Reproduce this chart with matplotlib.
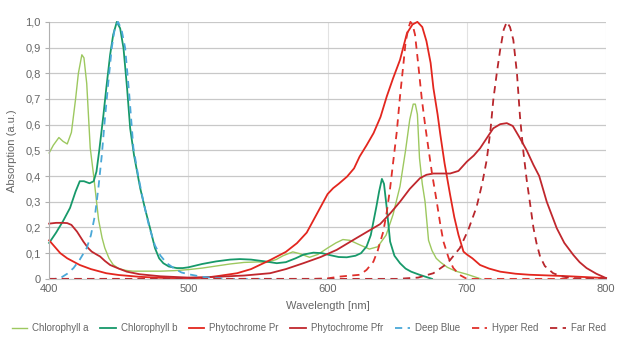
import matplotlib
matplotlib.use('Agg')
import matplotlib.pyplot as plt
from matplotlib.ticker import FuncFormatter

plt.rcParams['font.family'] = ['Liberation Sans', 'DejaVu Sans']

# Chlorophyll a
chla_wl = [400, 403, 407, 410, 413, 416, 419, 421, 423.5, 425, 427, 429.5, 432, 435.5, 438, 440, 443, 446,
           450, 455, 460, 470, 480, 490, 500, 510, 520, 530, 540, 550, 556, 563, 568, 575, 580, 587, 593,
           600, 606, 611, 616, 622, 630, 636, 642, 647, 652, 656, 659, 661.5, 663, 664.5, 666, 668, 670,
           672.5, 675, 678, 681, 686, 692, 700, 710]
chla_val = [0.49, 0.52, 0.55, 0.535, 0.525, 0.57, 0.70, 0.80, 0.872, 0.86, 0.76, 0.51, 0.40, 0.23, 0.16, 0.12,
            0.08, 0.055, 0.04, 0.033, 0.03, 0.03, 0.03, 0.032, 0.036, 0.042, 0.05, 0.058, 0.064, 0.066, 0.064,
            0.075, 0.09, 0.105, 0.098, 0.084, 0.095, 0.12, 0.14, 0.153, 0.15, 0.135, 0.116, 0.125, 0.17, 0.25,
            0.36, 0.50, 0.62, 0.68, 0.68, 0.64, 0.47, 0.37, 0.30, 0.15, 0.11, 0.08, 0.065, 0.045, 0.03, 0.018, 0.0]

# Chlorophyll b
chlb_wl = [400, 405, 410, 415, 419, 422, 425, 429, 432, 434, 436, 439, 441, 443.8, 446, 448.6, 451, 453.4, 456,
           458.2, 461, 465.4, 469, 472.5, 476, 479, 482, 486, 491.7, 496, 500, 510, 520, 530, 537, 545, 555,
           563.5, 570, 577, 583, 589.8, 596, 602, 608, 613.8, 620, 624, 628, 631, 635, 637, 639, 640.5, 642.5,
           644.9, 648, 652, 656, 660, 666, 675]
chlb_val = [0.14, 0.18, 0.225, 0.276, 0.34, 0.38, 0.38, 0.372, 0.38, 0.418, 0.50, 0.638, 0.74, 0.872, 0.95, 1.0,
            0.975, 0.898, 0.74, 0.586, 0.48, 0.353, 0.27, 0.197, 0.12, 0.08, 0.061, 0.048, 0.042, 0.042, 0.045,
            0.058, 0.068, 0.075, 0.077, 0.075, 0.068, 0.061, 0.065, 0.08, 0.095, 0.102, 0.10, 0.092, 0.085,
            0.084, 0.09, 0.10, 0.126, 0.17, 0.28, 0.34, 0.389, 0.37, 0.275, 0.145, 0.09, 0.061, 0.04, 0.028,
            0.016, 0.0]

# Phytochrome Pr
pr_wl = [400, 404, 408, 413, 417.5, 422, 430, 441, 450, 465, 480, 500, 511, 520, 535, 545, 559, 570, 578, 585,
         590, 594, 597, 600, 604, 608, 614, 619, 623, 628, 633, 638, 642.5, 647, 652, 657, 661, 664.5, 668, 671,
         674, 676, 679, 681, 684, 688, 691, 694, 697.6, 700, 704, 709.5, 716, 724, 735, 745, 755, 770, 785, 800]
pr_val = [0.15, 0.125, 0.1, 0.08, 0.067, 0.054, 0.038, 0.022, 0.015, 0.008, 0.004, 0.002, 0.004, 0.01, 0.022,
          0.038, 0.074, 0.105, 0.139, 0.18, 0.23, 0.27, 0.30, 0.33, 0.353, 0.37, 0.398, 0.43, 0.476, 0.52, 0.567,
          0.63, 0.71, 0.78, 0.852, 0.956, 0.99, 1.0, 0.98, 0.925, 0.84, 0.742, 0.64, 0.56, 0.45, 0.327, 0.24,
          0.171, 0.106, 0.095, 0.08, 0.054, 0.04, 0.028, 0.02, 0.016, 0.014, 0.011, 0.007, 0.003]

# Phytochrome Pfr
pfr_wl = [400, 405, 410, 413, 416, 420, 424.6, 428, 430.6, 434, 436.6, 440, 443.8, 450, 455.8, 465, 480, 500,
          520, 540, 558.7, 570, 582.6, 595, 606.6, 618, 630.5, 637.7, 645, 652, 659, 666.4, 671, 676, 682, 688,
          694, 700, 705, 709.5, 714, 719, 724, 728.7, 733, 738.2, 743, 747.8, 752, 757.4, 764.6, 770, 776.5,
          781, 786, 793, 800]
pfr_val = [0.215, 0.218, 0.218, 0.217, 0.21, 0.184, 0.145, 0.12, 0.106, 0.095, 0.087, 0.07, 0.054, 0.04, 0.028,
           0.018, 0.01, 0.005, 0.008, 0.013, 0.022, 0.038, 0.061, 0.085, 0.113, 0.15, 0.19, 0.213, 0.255, 0.30,
           0.35, 0.392, 0.405, 0.41, 0.41, 0.41, 0.42, 0.456, 0.48, 0.508, 0.545, 0.586, 0.602, 0.606, 0.595,
           0.547, 0.50, 0.444, 0.40, 0.30, 0.197, 0.14, 0.093, 0.065, 0.042, 0.02, 0.003]

# LEDs
blue_wl = [400, 404, 408, 413, 417.5, 422, 427, 430, 433, 435.5, 437.8, 440, 442.6, 445, 447, 449.5, 452, 454.6,
           457.5, 460.5, 464, 467.7, 472, 476, 480, 484.5, 490, 495, 500, 510, 520, 530, 560]
blue_val = [0.0, 0.0, 0.003, 0.02, 0.042, 0.075, 0.12, 0.17, 0.25, 0.36, 0.48, 0.62, 0.77, 0.9, 0.97, 1.0, 0.97,
            0.898, 0.72, 0.51, 0.40, 0.30, 0.2, 0.13, 0.09, 0.061, 0.04, 0.025, 0.018, 0.008, 0.003, 0.0, 0.0]

hyper_wl = [400, 590, 600, 609, 615, 623.3, 628, 632.9, 636, 640, 642.5, 644.9, 647, 649.7, 652, 654.4, 656, 658,
            659.5, 661, 662.8, 665, 667.6, 670, 672.4, 675, 678.4, 681, 683.2, 687, 690.3, 695, 700, 800]
hyper_val = [0.0, 0.0, 0.002, 0.009, 0.012, 0.016, 0.035, 0.067, 0.11, 0.184, 0.26, 0.353, 0.45, 0.573, 0.71,
             0.833, 0.92, 0.975, 1.0, 0.99, 0.95, 0.84, 0.703, 0.6, 0.508, 0.41, 0.30, 0.21, 0.145, 0.08, 0.042,
             0.015, 0.0, 0.0]

farred_wl = [400, 650, 665, 676, 686, 695, 701, 707, 711, 714.3, 717, 719, 721.5, 723.9, 726.5, 728.7, 731,
             733.4, 736, 738.2, 740.5, 743, 745.5, 747.8, 750, 752.6, 756, 762, 768, 775, 800]
farred_val = [0.0, 0.0, 0.005, 0.022, 0.06, 0.12, 0.19, 0.28, 0.37, 0.463, 0.58, 0.696, 0.80, 0.89, 0.97, 1.0,
              0.98, 0.93, 0.80, 0.63, 0.50, 0.385, 0.29, 0.20, 0.14, 0.087, 0.05, 0.022, 0.01, 0.003, 0.0]

x_ticks = [400, 500, 600, 700, 800]
y_ticks = [0, 0.1, 0.2, 0.3, 0.4, 0.5, 0.6, 0.7, 0.8, 0.9, 1.0]

series = [
    ('Chlorophyll a', chla_wl, chla_val, '#9dc85f', '-', 1.0),
    ('Chlorophyll b', chlb_wl, chlb_val, '#17996a', '-', 1.3),
    ('Phytochrome Pr', pr_wl, pr_val, '#e3261e', '-', 1.3),
    ('Phytochrome Pfr', pfr_wl, pfr_val, '#c0272d', '-', 1.3),
    ('Deep Blue', blue_wl, blue_val, '#4aa8d8', '--', 1.3),
    ('Hyper Red', hyper_wl, hyper_val, '#e0302b', '--', 1.3),
    ('Far Red', farred_wl, farred_val, '#b8262c', '--', 1.3),
]


def main():
    fig = plt.figure(figsize=(6.3, 3.53), dpi=100)
    ax = fig.add_axes([0.078, 0.21, 0.884, 0.728])

    for label, wl, val, color, ls, lw in series:
        ax.plot(wl, val, color=color, linestyle=ls, linewidth=lw, label=label,
                dashes=(4, 3) if ls == '--' else (None, None), clip_on=False)

    ax.set_xlim(400, 800)
    ax.set_ylim(0, 1.0)
    ax.set_xticks(x_ticks)
    ax.set_yticks(y_ticks)
    ax.yaxis.set_major_formatter(FuncFormatter(
        lambda v, p: '0' if v == 0 else f'{v:.1f}'.replace('.', ',')))

    ax.grid(axis='y', color='#c8c8c8', linewidth=0.9)
    ax.grid(axis='x', color='#e2e2e2', linewidth=0.8)
    ax.set_axisbelow(True)
    for s in ['top', 'right']:
        ax.spines[s].set_visible(False)
    ax.spines['left'].set_color('#b0b0b0')
    ax.spines['bottom'].set_color('#c8c8c8')
    ax.tick_params(axis='both', colors='#666666', labelsize=8, length=0, pad=4)
    ax.tick_params(axis='y', length=3, color='#b0b0b0', pad=3)

    ax.set_xlabel('Wavelength [nm]', color='#666666', fontsize=8, labelpad=5)
    ax.set_ylabel('Absorption (a.u.)', color='#666666', fontsize=8, labelpad=6)

    leg = fig.legend(loc='center', bbox_to_anchor=(0.49, 0.07), ncol=7, frameon=False,
                     fontsize=7, handlelength=1.6, columnspacing=1.2, handletextpad=0.5)
    for t in leg.get_texts():
        t.set_color('#666666')

    fig.savefig('out.png', dpi=100)


if __name__ == '__main__':
    main()
